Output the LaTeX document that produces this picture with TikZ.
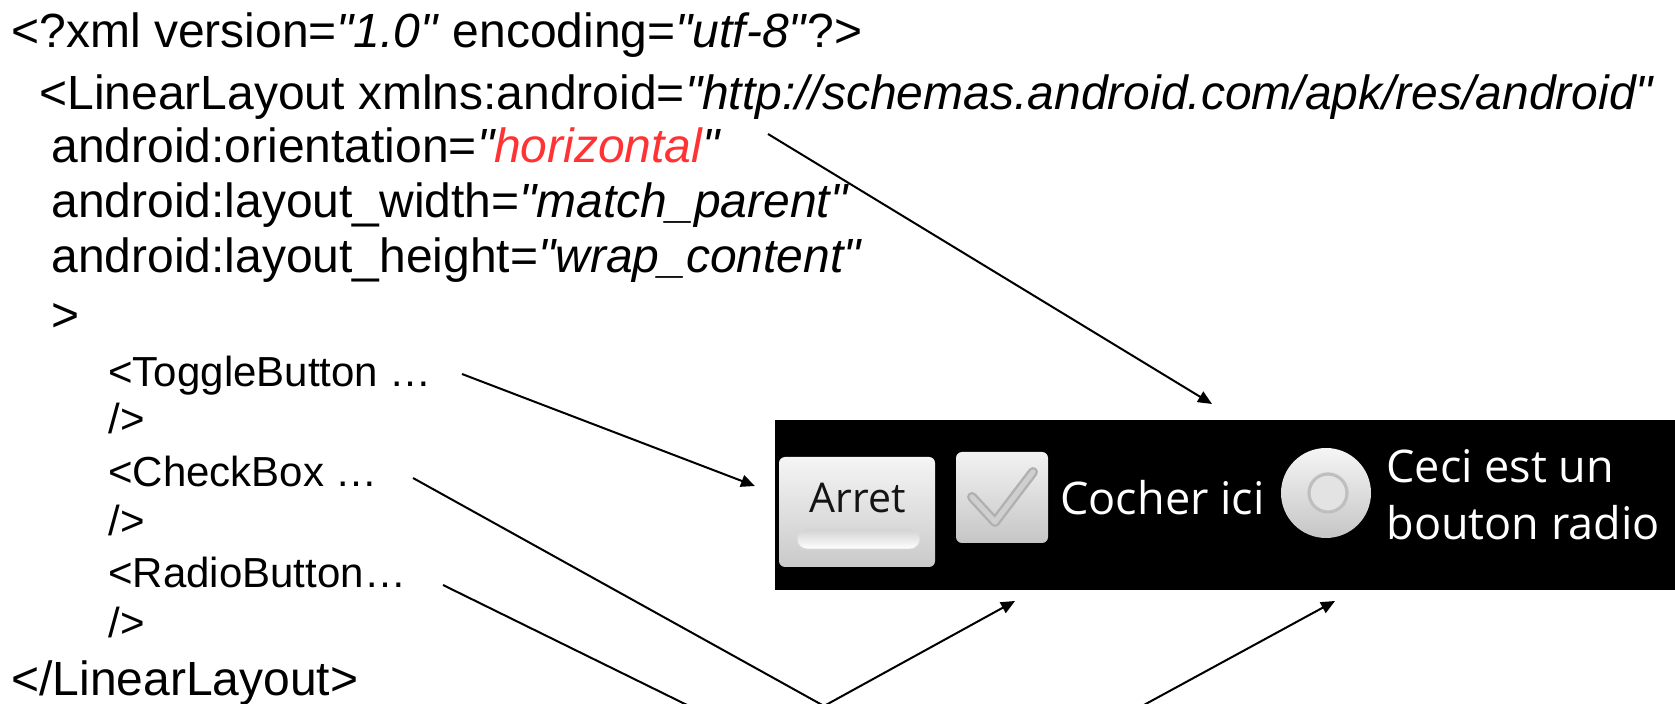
\documentclass[tikz,border=0pt]{standalone}
\usepackage{fontspec}
\setmainfont{Liberation Sans}[Ligatures=TeXOff]
\newfontfamily\droid{Open Sans}
\usetikzlibrary{arrows.meta}

\definecolor{attr}{RGB}{255,51,51}

\begin{document}
\begin{tikzpicture}[x=0.5pt,y=-0.5pt,
  code/.style={anchor=base west,inner sep=0pt,font=\fontsize{24}{28}\selectfont},
  sub/.style={anchor=base west,inner sep=0pt,font=\fontsize{21}{25}\selectfont},
  link/.style={draw=black,line width=1pt,-{Triangle[width=6pt,length=7pt]}},
  uitext/.style={anchor=base west,inner sep=0pt,text=white,font=\droid\fontsize{22.5}{26}\selectfont},
  ]
\useasboundingbox (0,0) rectangle (1675,704);
\clip (0,0) rectangle (1675,704);

% XML source
\node[code] (l1) at (11,48) {<?xml version=\textit{"1.0"} encoding=\textit{"utf-8"}?>};
\node[code] (l2) at (39,110) {<LinearLayout xmlns:android=\textit{"http://schemas.android.com/apk/res/android"}};
\node[code] (l3) at (51,163) {android:orientation=\textit{"{\color{attr}horizontal}"}};
\node[code] (l4) at (51,218) {android:layout\_width=\textit{"match\_parent"}};
\node[code] (l5) at (51,273) {android:layout\_height=\textit{"wrap\_content"}};
\node[code] (l6) at (51,332) {>};
\node[sub] (tog) at (108,387) {<ToggleButton …};
\node[sub] (tog2) at (108,434) {/>};
\node[sub] (chk) at (108,487) {<CheckBox …};
\node[sub] (chk2) at (108,536) {/>};
\node[sub] (rad) at (108,588) {<RadioButton…};
\node[sub] (rad2) at (108,638) {/>};
\node[code] (end) at (11,696) {</LinearLayout>};

% rendered layout
\fill[black] (775,420) rectangle (1675,590);

% toggle button
\shade[rounded corners=3pt,top color=gray!8,bottom color=gray!42] (779,457) rectangle (935,567);
\node[anchor=base,inner sep=0pt,text=black!92,font=\droid\fontsize{20.5}{24}\selectfont] (arret) at (858,513) {Arret};
\shade[rounded corners=5pt,top color=gray!35,bottom color=white,draw=gray!30] (797,529) rectangle (920,549);

% check box
\shade[rounded corners=3pt,top color=gray!10,bottom color=gray!45] (956,452) rectangle (1048,543);
\draw[line width=5pt,gray!62,line join=round,line cap=round] (972,497) -- (995,522) -- (1033,472);
\draw[line width=2.6pt,gray!38,line join=round,line cap=round] (972,497) -- (995,522) -- (1033,472);
\node[uitext] (cocher) at (1060,515) {Cocher ici};

% radio button
\shade[top color=gray!8,bottom color=gray!45] (1326,493) circle[radius=22.5pt];
\draw[gray!50,line width=1.6pt,fill=gray!22] (1328,493) circle[radius=9.5pt];
\node[uitext] (ceci) at (1386,483) {Ceci est un};
\node[uitext] (bouton) at (1386,540) {bouton radio};

% connectors
\coordinate (a1s) at (768,134);
\coordinate (a1e) at (1212,404);
\coordinate (a2s) at (462,374);
\coordinate (a2e) at (755,486);
\coordinate (a3s) at (413,478);
\coordinate (a3v) at (824,706);
\coordinate (a3e) at (1015,601);
\coordinate (a4s) at (443,585);
\coordinate (a4v) at (927,823);
\coordinate (a4e) at (1335,601);

\draw[link] (a1s) -- (a1e);
\draw[link] (a2s) -- (a2e);
\draw[link] (a3s) -- (a3v) -- (a3e);
\draw[link] (a4s) -- (a4v) -- (a4e);
\end{tikzpicture}
\end{document}
